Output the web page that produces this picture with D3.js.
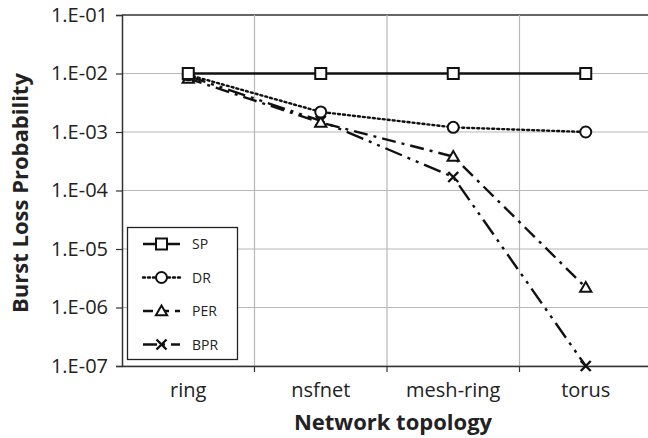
<!DOCTYPE html>
<html>
<head>
<meta charset="utf-8">
<script src="https://cdn.jsdelivr.net/npm/d3@7"></script>
<style>
  body { margin: 0; background: #fff; }
  text { font-family: "Open Sans", "Noto Sans", sans-serif; fill: #222; }
</style>
</head>
<body>
<div id="chart"></div>
<script>
// categories and series
var topologies = ["ring", "nsfnet", "mesh-ring", "torus"];
var spValues  = [1e-2, 1e-2, 1e-2, 1e-2];
var drValues  = [9.5e-3, 2.2e-3, 1.2e-3, 1.0e-3];
var perValues = [8.2e-3, 1.45e-3, 3.8e-4, 2.2e-6];
var bprValues = [9.0e-3, 1.55e-3, 1.7e-4, 1e-7];
var yTicks = [1e-1, 1e-2, 1e-3, 1e-4, 1e-5, 1e-6, 1e-7];
var tickLabels = ["1.E-01", "1.E-02", "1.E-03", "1.E-04", "1.E-05", "1.E-06", "1.E-07"];

var width = 648, height = 438;
// plot area edges
var plotL = 122, plotR = 652, plotT = 15, plotB = 366;

var svg = d3.select("#chart").append("svg")
    .attr("width", width)
    .attr("height", height);

var xScale = d3.scaleBand().domain(topologies).range([plotL, plotR]);
var yScale = d3.scaleLog().domain([1e-7, 1e-1]).range([plotB, plotT]);

// horizontal grid
svg.append("g").selectAll("line").data(yTicks).enter().append("line")
    .attr("x1", plotL).attr("x2", plotR)
    .attr("y1", function(d) { return yScale(d); })
    .attr("y2", function(d) { return yScale(d); })
    .attr("stroke", function(d, i) { return i === 0 ? "#333" : "#b8b8b8"; })
    .attr("stroke-width", function(d, i) { return i === 0 ? 1.5 : 1.2; });

// vertical grid at category boundaries
var bounds = topologies.slice(1).map(function(t) { return xScale(t); });
svg.append("g").selectAll("line").data(bounds).enter().append("line")
    .attr("x1", function(d) { return d; }).attr("x2", function(d) { return d; })
    .attr("y1", plotT).attr("y2", plotB)
    .attr("stroke", "#b8b8b8").attr("stroke-width", 1.2);

// y axis
var yAxis = d3.axisLeft(yScale).tickValues(yTicks)
    .tickFormat(function(d, i) { return tickLabels[i]; })
    .tickSize(6).tickPadding(8);
var yg = svg.append("g").attr("transform", "translate(" + plotL + ",0)").call(yAxis);
yg.select(".domain").attr("stroke", "#333").attr("stroke-width", 1.5);
yg.selectAll(".tick line").attr("stroke", "#333").attr("stroke-width", 1.2);
yg.selectAll("text").attr("font-size", 20).attr("fill", "#222");

// x axis
var xAxis = d3.axisBottom(xScale).tickSize(0).tickPadding(17);
var xg = svg.append("g").attr("transform", "translate(0," + plotB + ")").call(xAxis);
xg.select(".domain").attr("stroke", "#333").attr("stroke-width", 1.5);
xg.selectAll("text").attr("font-size", 20).attr("fill", "#222");
xg.selectAll(".bound").data(bounds).enter().append("line")
    .attr("class", "bound")
    .attr("x1", function(d) { return d; }).attr("x2", function(d) { return d; })
    .attr("y1", 0).attr("y2", 6)
    .attr("stroke", "#333").attr("stroke-width", 1.2);

// axis titles
svg.append("text")
    .attr("x", 393).attr("y", 430)
    .attr("text-anchor", "middle")
    .attr("font-size", 22).attr("font-weight", "bold")
    .text("Network topology");
svg.append("text")
    .attr("transform", "translate(28,193) rotate(-90)")
    .attr("text-anchor", "middle")
    .attr("font-size", 22).attr("font-weight", "bold")
    .text("Burst Loss Probability");

var series = [
  { name: "SP",  values: spValues,  dash: null,              width: 2.6, marker: "square" },
  { name: "DR",  values: drValues,  dash: "2,3",             width: 2.4, marker: "circle" },
  { name: "PER", values: perValues, dash: "14,6,3,6",        width: 2.4, marker: "triangle" },
  { name: "BPR", values: bprValues, dash: "18,6,3,6,3,6",    width: 2.4, marker: "cross" }
];

var cx = function(i) { return xScale(topologies[i]) + xScale.bandwidth() / 2; };

var line = d3.line()
    .x(function(d, i) { return cx(i); })
    .y(function(d) { return yScale(d); });

function drawMarker(g, type, x, y) {
  if (type === "square") {
    g.append("rect").attr("x", x - 5.5).attr("y", y - 5.5).attr("width", 11).attr("height", 11)
      .attr("fill", "#fff").attr("stroke", "#111").attr("stroke-width", 2);
  } else if (type === "circle") {
    g.append("circle").attr("cx", x).attr("cy", y).attr("r", 5.5)
      .attr("fill", "#fff").attr("stroke", "#111").attr("stroke-width", 2);
  } else if (type === "triangle") {
    g.append("path").attr("d", d3.symbol().type(d3.symbolTriangle).size(55)())
      .attr("transform", "translate(" + x + "," + (y + 1) + ")")
      .attr("fill", "#fff").attr("stroke", "#111").attr("stroke-width", 2);
  } else {
    g.append("path").attr("d", "M-5,-5L5,5M-5,5L5,-5")
      .attr("transform", "translate(" + x + "," + y + ")")
      .attr("stroke", "#111").attr("stroke-width", 2.4);
  }
}

// draw lines from back to front
series.slice().reverse().forEach(function(s) {
  var g = svg.append("g");
  g.append("path").datum(s.values)
    .attr("d", line)
    .attr("fill", "none")
    .attr("stroke", "#111")
    .attr("stroke-width", s.width)
    .attr("stroke-dasharray", s.dash)
    .attr("stroke-linecap", s.name === "DR" ? "round" : "butt");
  s.values.forEach(function(v, i) { drawMarker(g, s.marker, cx(i), yScale(v)); });
});

// legend
var legend = svg.append("g");
legend.append("rect")
    .attr("x", 127.5).attr("y", 227.5).attr("width", 110).attr("height", 132)
    .attr("fill", "#fff").attr("stroke", "#222").attr("stroke-width", 1.3);
var legendDash = [null, "2,3", "10,6", "14,6,2,6"];
series.forEach(function(s, i) {
  var y = 244 + i * 33.5;
  legend.append("line")
    .attr("x1", 143).attr("x2", 180).attr("y1", y).attr("y2", y)
    .attr("stroke", "#111").attr("stroke-width", s.width)
    .attr("stroke-dasharray", legendDash[i])
    .attr("stroke-linecap", s.name === "DR" ? "round" : "butt");
  drawMarker(legend, s.marker, 161.5, y);
  legend.append("text")
    .attr("x", 192).attr("y", y + 5)
    .attr("font-size", 14)
    .text(s.name);
});
</script>
</body>
</html>
